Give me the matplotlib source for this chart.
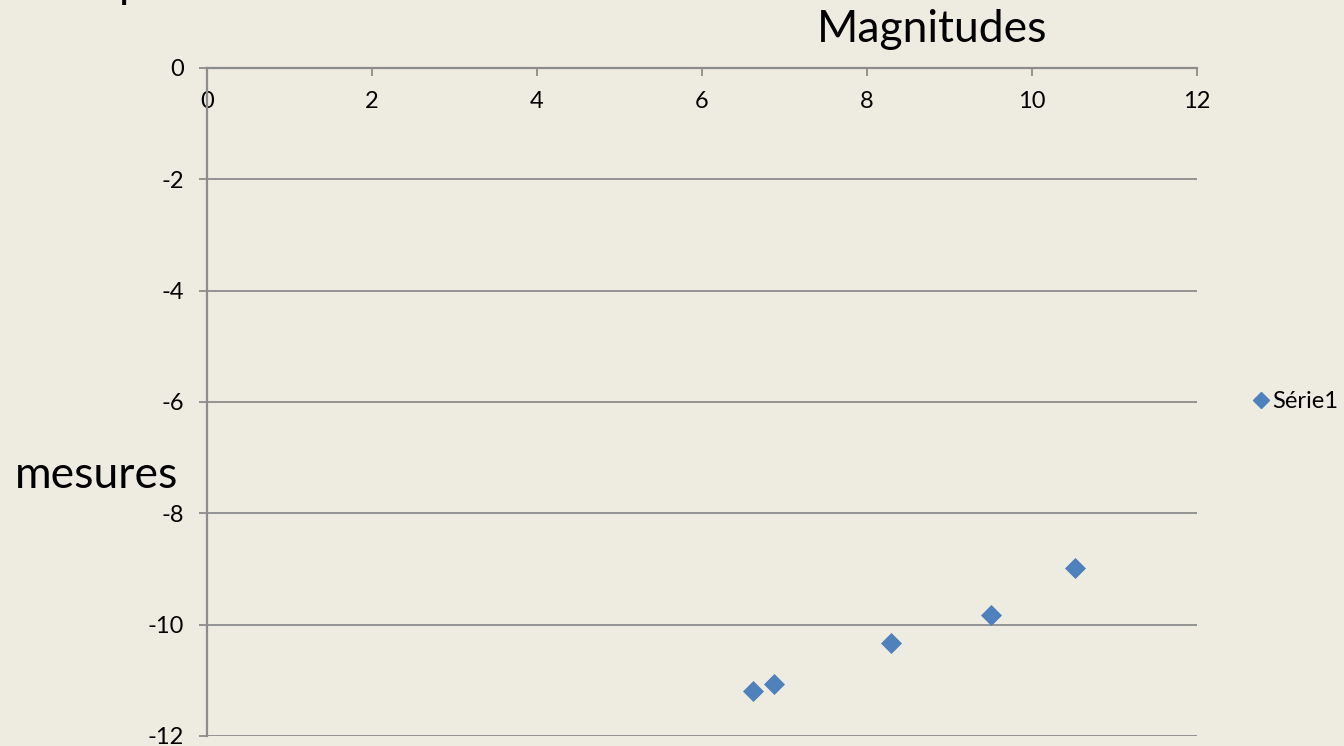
import matplotlib
matplotlib.use("Agg")
import matplotlib.pyplot as plt
from matplotlib.lines import Line2D

plt.rcParams['font.family'] = ['Lato', 'DejaVu Sans']

magnitudes = [6.62, 6.87, 8.29, 9.50, 10.52]
mesures = [-11.19, -11.07, -10.33, -9.82, -8.99]
series_name = "Série1"
x_ticks = [0, 2, 4, 6, 8, 10, 12]
y_ticks = [0, -2, -4, -6, -8, -10, -12]

bg = '#EEECE1'
grid_c = '#8C8C8C'
marker_c = '#4F81BD'

fig = plt.figure(figsize=(13.44, 7.46), dpi=100, facecolor=bg)
ax = fig.add_axes([207/1344, 1-736/746, (1197-207)/1344, (736-68)/746])
ax.set_facecolor(bg)

ax.plot(magnitudes, mesures, linestyle='none', marker='D', markersize=10,
        color=marker_c, markeredgecolor='#4A7EBB', markeredgewidth=0.5, clip_on=False, zorder=3)

ax.set_xlim(0, 12)
ax.set_ylim(-12, 0)
ax.set_xticks(x_ticks)
ax.set_yticks(y_ticks)
ax.set_xticklabels([str(v) for v in x_ticks])
ax.set_yticklabels([str(v) for v in y_ticks])

for s in ['right', 'bottom']:
    ax.spines[s].set_visible(False)
for s in ['left', 'top']:
    ax.spines[s].set_color(grid_c)
    ax.spines[s].set_linewidth(1.6)

ax.yaxis.grid(True, color=grid_c, linewidth=1.3)
ax.set_axisbelow(True)

ax.tick_params(axis='x', top=True, bottom=False, labeltop=True, labelbottom=False,
               direction='in', length=6, width=1.3, color=grid_c, pad=-32, labelsize=17)
ax.tick_params(axis='y', left=True, direction='out', length=5.5, width=1.3,
               color=grid_c, pad=11, labelsize=17)

fig.text(932/1344, 1-30/746, "Magnitudes", ha='center', va='center', fontsize=32)
fig.text(97/1344, 1-475/746, "mesures", ha='center', va='center', fontsize=32)
fig.text(119/1344, 1+3/746, "p", ha='left', va='baseline', fontsize=32)

handle = Line2D([], [], linestyle='none', marker='D', markersize=8, color=marker_c)
fig.legend([handle], [series_name], loc='center left', bbox_to_anchor=(1255/1344, 1-402/746),
           frameon=False, fontsize=17, handlelength=0.5, handletextpad=0.25, borderpad=0, borderaxespad=0)

fig.savefig('out.png', dpi=100, facecolor=bg)
